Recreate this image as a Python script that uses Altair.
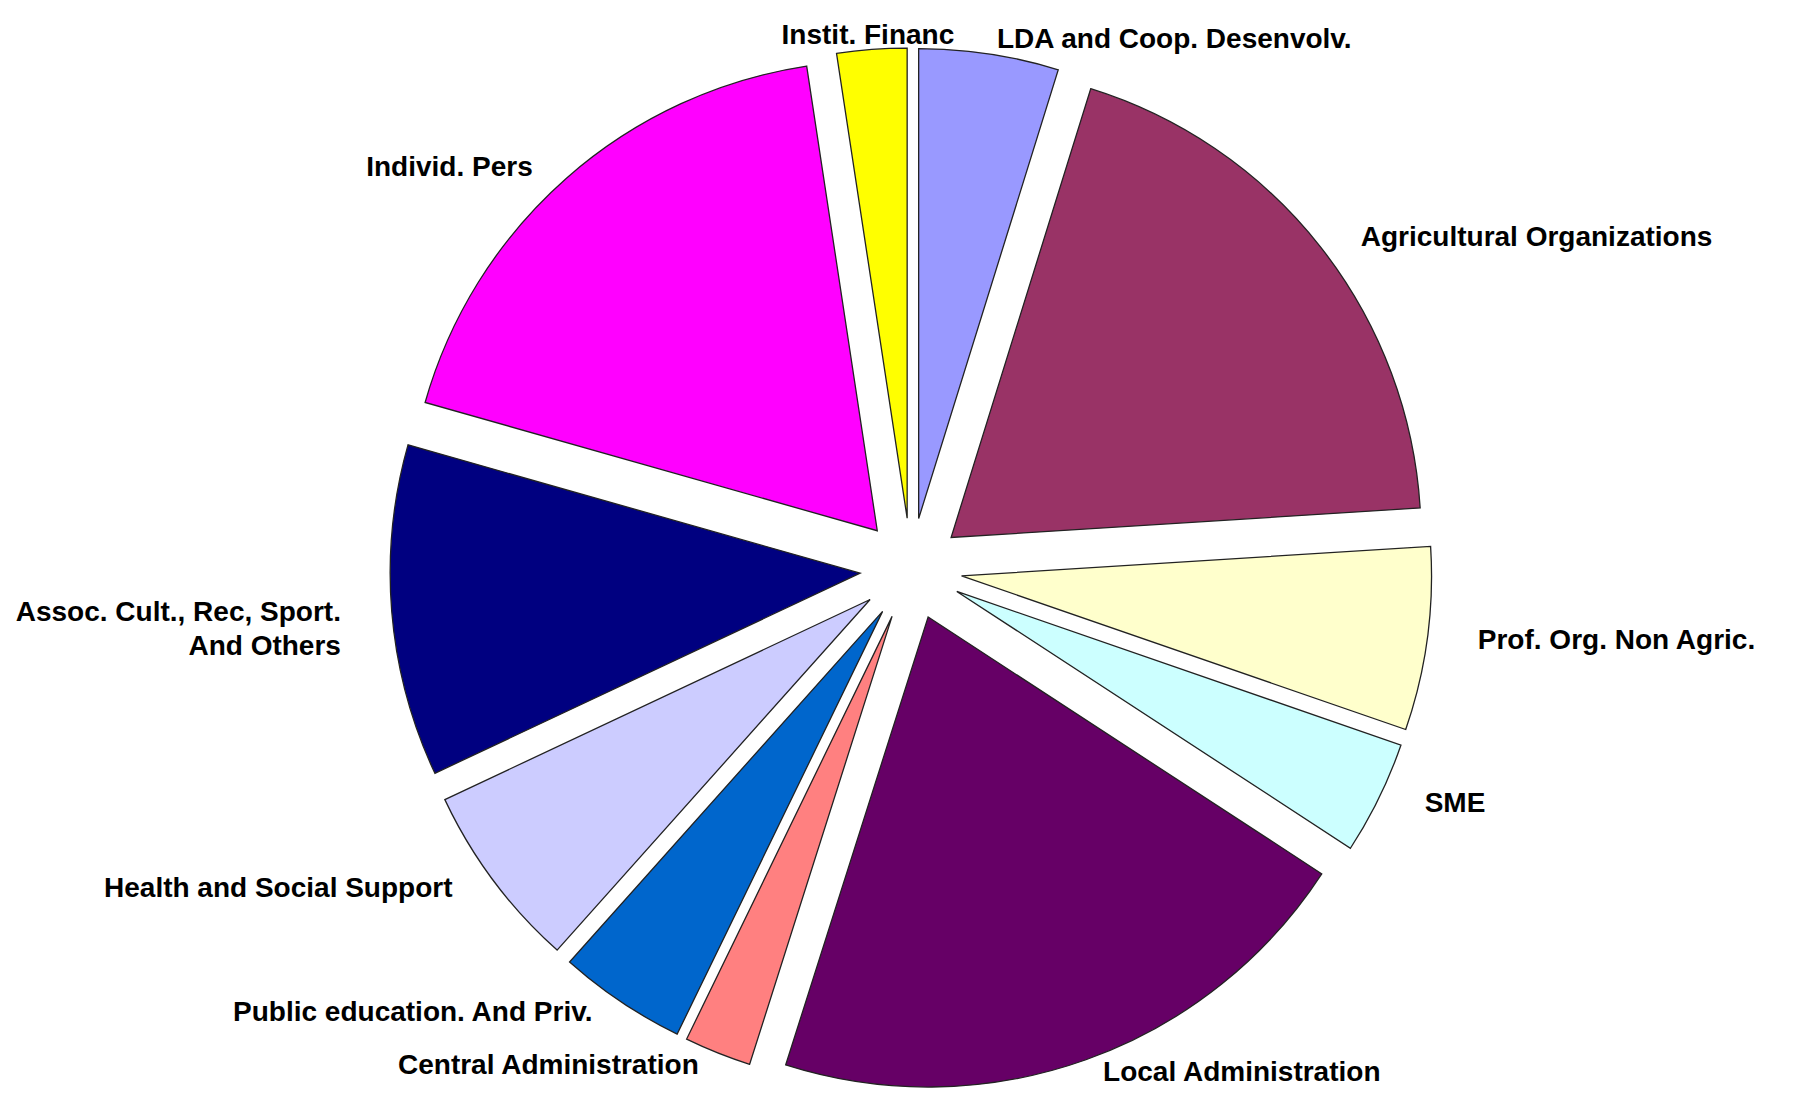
import altair as alt
import pandas as pd

categories = [
    "LDA and Coop. Desenvolv.",
    "Agricultural Organizations",
    "Prof. Org. Non Agric.",
    "SME",
    "Local Administration",
    "Central Administration",
    "Public education. And Priv.",
    "Health and Social Support",
    "Assoc. Cult., Rec, Sport.\nAnd Others",
    "Individ. Pers",
    "Instit. Financ",
]
shares = [4.8, 19.2, 6.3, 3.9, 20.7, 2.3, 4.4, 6.4, 11.4, 18.2, 2.4]
colors = ["#9999FF", "#993366", "#FFFFCC", "#CCFFFF", "#660066", "#FF8080",
          "#0066CC", "#CCCCFF", "#000080", "#FF00FF", "#FFFF00"]

df = pd.DataFrame({"cat": categories, "share": shares, "order": list(range(len(categories)))})

CX, CY = 903, 561      # pie centre (plot px)
R = 470                # pie radius
OFF = 51               # explode distance
LRX, LRY = 572, 535    # label ellipse radii

base = alt.Chart(df).transform_window(
    cum="sum(share)", sort=[alt.SortField("order")], frame=[None, 0]
).transform_joinaggregate(total="sum(share)").transform_calculate(
    t0="2*PI*(datum.cum - datum.share)/datum.total",
    t1="2*PI*datum.cum/datum.total",
).transform_calculate(
    mid="(datum.t0 + datum.t1)/2"
).transform_calculate(
    px=f"{CX} + {OFF}*sin(datum.mid)",
    py=f"{CY} - {OFF}*cos(datum.mid)",
    lx=f"{CX} + {LRX}*sin(datum.mid)",
    ly=f"{CY} - {LRY}*cos(datum.mid)",
    s="sin(datum.mid)",
)

arcs = base.mark_arc(outerRadius=R, stroke="#222222", strokeWidth=1.3).encode(
    x=alt.X("px:Q", scale=None, axis=None),
    y=alt.Y("py:Q", scale=None, axis=None),
    theta=alt.Theta("t0:Q", scale=None, stack=None),
    theta2=alt.Theta2("t1:Q"),
    color=alt.Color("cat:N", scale=alt.Scale(domain=categories, range=colors), legend=None),
)

font = "Liberation Sans, Arial"

def label_layer(cond, align):
    return base.transform_filter(cond).mark_text(
        align=align, baseline="middle", font=font, fontWeight="bold",
        fontSize=28, color="black", lineBreak="\n", lineHeight=34
    ).encode(
        x=alt.X("lx:Q", scale=None, axis=None),
        y=alt.Y("ly:Q", scale=None, axis=None),
        text="cat:N",
    )

labels = alt.layer(
    label_layer("datum.s > 0.15", "left"),
    label_layer("datum.s < -0.15", "right"),
    label_layer("abs(datum.s) <= 0.15", "center"),
)

chart = alt.layer(arcs, labels).properties(
    width=1791, height=1086, autosize=alt.AutoSizeParams(type="none"), padding=0
).configure_view(stroke=None)

chart.save("out.html", embed_options={"renderer": "svg", "actions": False})
